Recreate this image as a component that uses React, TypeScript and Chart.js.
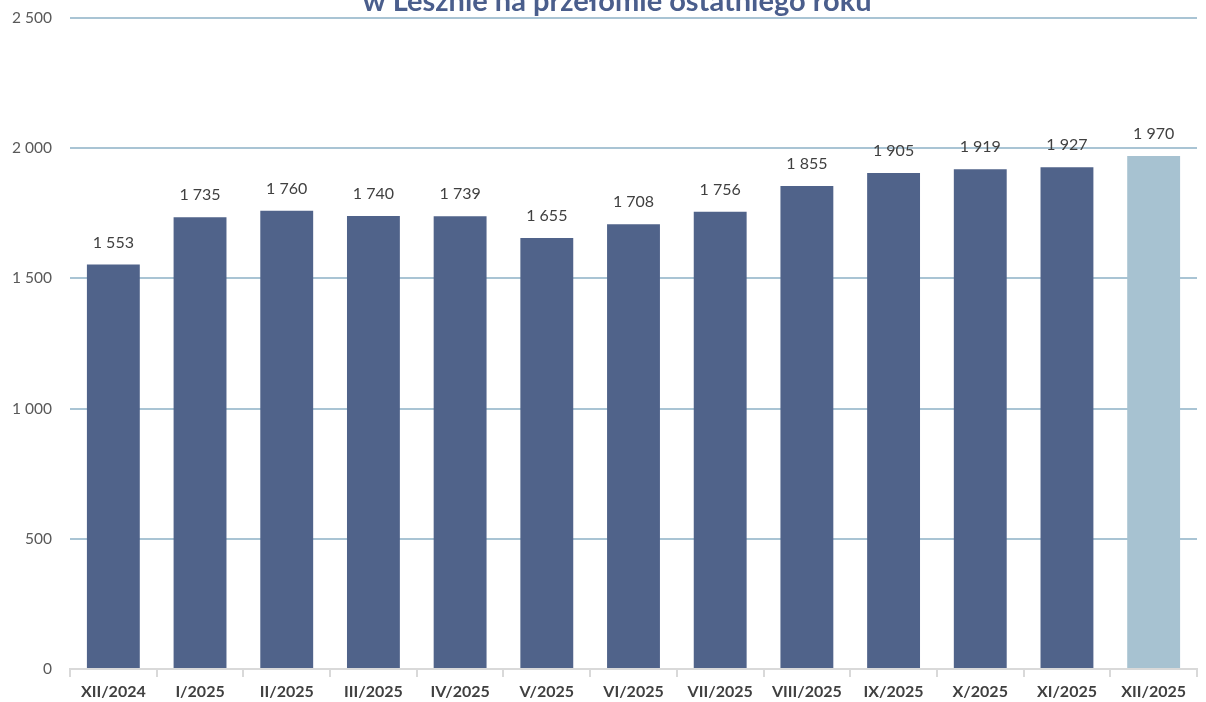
import React, { useEffect, useRef } from "react";
import { Chart, registerables } from "chart.js";

Chart.register(...registerables);

const categories = ["XII/2024", "I/2025", "II/2025", "III/2025", "IV/2025", "V/2025", "VI/2025", "VII/2025", "VIII/2025", "IX/2025", "X/2025", "XI/2025", "XII/2025"];
const values = [1553, 1735, 1760, 1740, 1739, 1655, 1708, 1756, 1855, 1905, 1919, 1927, 1970];
const yTicks = [0, 500, 1000, 1500, 2000, 2500];
const titleText = "w Lesznie na przełomie ostatniego roku";

const DARK = "#50638A";
const LIGHT = "#A7C2D1";
const FONT = "Lato, 'Open Sans', sans-serif";

const fmt = (v: number) => {
  const s = Math.round(v).toString();
  return s.replace(/\B(?=(\d{3})+(?!\d))/g, " ");
};

export default function App() {
  const ref = useRef<HTMLCanvasElement | null>(null);
  useEffect(() => {
    if (!ref.current) return;
    const titlePlugin = {
      id: "cutTitle",
      afterDraw(chart: any) {
        const ctx = chart.ctx;
        ctx.save();
        ctx.font = `bold 29px ${FONT}`;
        ctx.fillStyle = "#4A5E8C";
        ctx.textAlign = "center";
        ctx.textBaseline = "alphabetic";
        ctx.fillText(titleText, 617, 11);
        ctx.restore();
      },
    };
    const labelPlugin = {
      id: "barLabels",
      afterDatasetsDraw(chart: any) {
        const ctx = chart.ctx;
        const meta = chart.getDatasetMeta(0);
        ctx.save();
        ctx.font = `16px ${FONT}`;
        ctx.fillStyle = "#404040";
        ctx.textAlign = "center";
        ctx.textBaseline = "middle";
        meta.data.forEach((bar: any, i: number) => {
          ctx.fillText(fmt(values[i]), bar.x, bar.y - 22);
        });
        ctx.restore();
      },
    };
    const chart = new Chart(ref.current, {
      type: "bar",
      data: {
        labels: categories,
        datasets: [
          {
            data: values,
            backgroundColor: values.map((_, i) => (i === values.length - 1 ? LIGHT : DARK)),
            barPercentage: 0.61,
            categoryPercentage: 1,
          },
        ],
      },
      options: {
        responsive: false,
        animation: false,
        layout: { padding: { top: 18, right: 9, bottom: 0, left: 0 } },
        plugins: {
          legend: { display: false },
          tooltip: { enabled: false },
          title: { display: false },
        },
        scales: {
          x: {
            afterFit: (s: any) => {
              s.height = 33;
            },
            grid: {
              offset: true,
              drawOnChartArea: false,
              drawTicks: true,
              tickLength: 8,
              color: "#D9D9D9",
              lineWidth: 2,
            },
            border: { display: true, color: "#D9D9D9", width: 2 },
            ticks: {
              font: { family: FONT, size: 16, weight: "bold" },
              color: "#404040",
              padding: 5,
              maxRotation: 0,
              autoSkip: false,
            },
          },
          y: {
            min: 0,
            max: 2500,
            afterFit: (s: any) => {
              s.width = 70;
              s.paddingTop = 0;
              s.paddingBottom = 0;
            },
            afterBuildTicks: (s: any) => {
              s.ticks = yTicks.map((v) => ({ value: v }));
            },
            grid: {
              drawTicks: false,
              color: (c: any) => (c.tick && c.tick.value === 0 ? "rgba(0,0,0,0)" : "#A9C4D4"),
              lineWidth: 2,
            },
            border: { display: false },
            ticks: {
              font: { family: FONT, size: 15.5 },
              color: "#595959",
              padding: 18,
              callback: (v: any) => fmt(Number(v)),
            },
          },
        },
      },
      plugins: [titlePlugin, labelPlugin],
    });
    return () => chart.destroy();
  }, []);
  return (
    <div style={{ position: "fixed", left: 0, top: 0, width: 1206, height: 702, background: "#fff" }}>
      <canvas ref={ref} width={1206} height={702} style={{ width: 1206, height: 702 }} />
    </div>
  );
}
